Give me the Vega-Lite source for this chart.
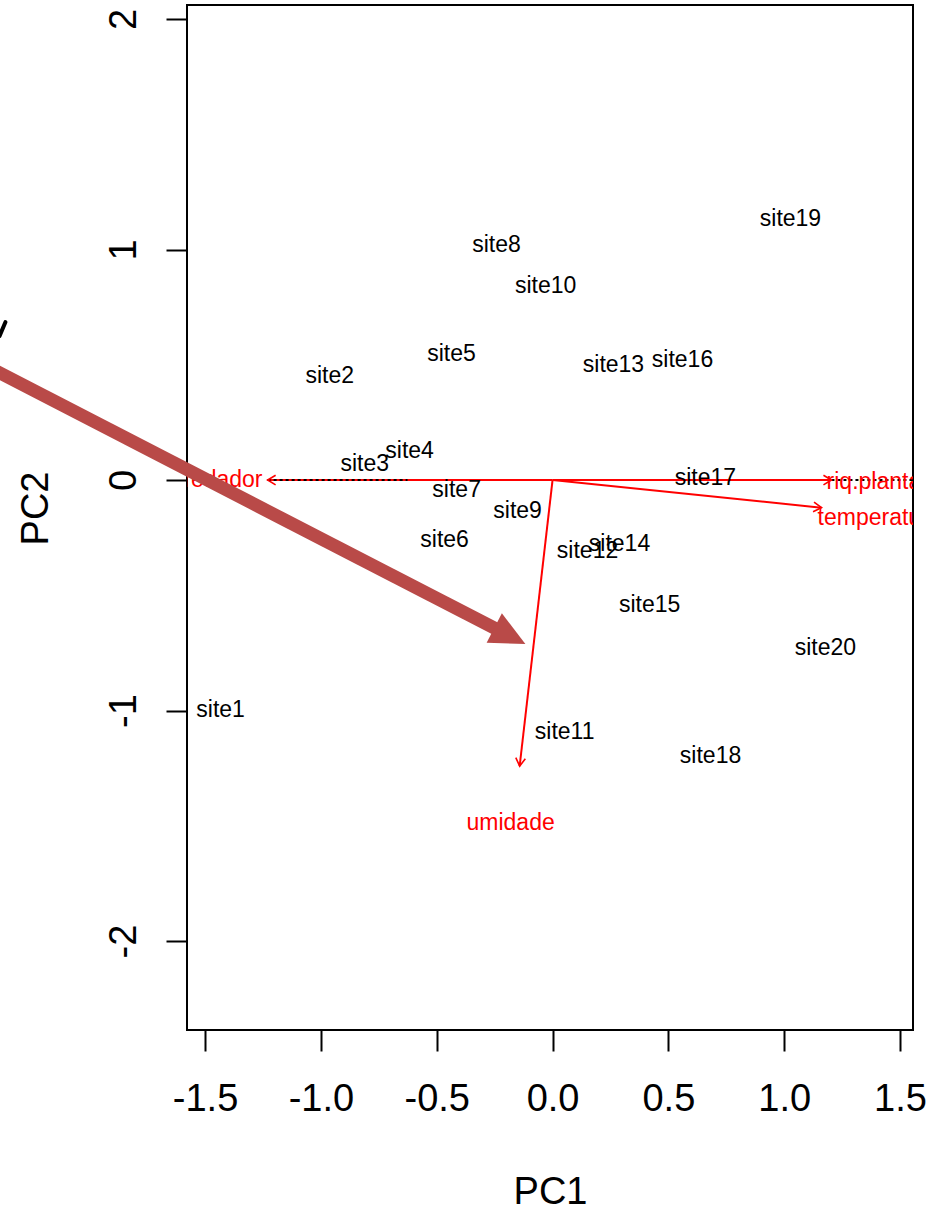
{
  "$schema": "https://vega.github.io/schema/vega-lite/v6.json",
  "width": 726,
  "height": 1025,
  "autosize": {"type": "none"},
  "padding": {"left": 187, "top": 5, "right": 15, "bottom": 179},
  "background": "white",
  "datasets": {
    "sites": [
      {"site": "site1", "PC1": -1.433, "PC2": -0.998},
      {"site": "site2", "PC1": -0.962, "PC2": 0.451},
      {"site": "site3", "PC1": -0.811, "PC2": 0.069},
      {"site": "site4", "PC1": -0.617, "PC2": 0.126},
      {"site": "site5", "PC1": -0.436, "PC2": 0.547},
      {"site": "site6", "PC1": -0.466, "PC2": -0.260},
      {"site": "site7", "PC1": -0.414, "PC2": -0.043},
      {"site": "site8", "PC1": -0.242, "PC2": 1.020},
      {"site": "site9", "PC1": -0.151, "PC2": -0.134},
      {"site": "site10", "PC1": -0.030, "PC2": 0.842},
      {"site": "site11", "PC1": 0.052, "PC2": -1.093},
      {"site": "site12", "PC1": 0.151, "PC2": -0.308},
      {"site": "site13", "PC1": 0.263, "PC2": 0.499},
      {"site": "site14", "PC1": 0.289, "PC2": -0.278},
      {"site": "site15", "PC1": 0.419, "PC2": -0.542},
      {"site": "site16", "PC1": 0.561, "PC2": 0.521},
      {"site": "site17", "PC1": 0.660, "PC2": 0.009},
      {"site": "site18", "PC1": 0.682, "PC2": -1.197},
      {"site": "site19", "PC1": 1.027, "PC2": 1.132},
      {"site": "site20", "PC1": 1.178, "PC2": -0.729}
    ],
    "vars": [
      {"var": "predador", "PC1": -1.230, "PC2": 0.0},
      {"var": "riq.plantas", "PC1": 1.204, "PC2": 0.0},
      {"var": "temperatura", "PC1": 1.161, "PC2": -0.120},
      {"var": "umidade", "PC1": -0.142, "PC2": -1.241}
    ],
    "varlabels": [
      {"var": "predador", "PC1": -1.252, "PC2": 0.0},
      {"var": "riq.plantas", "PC1": 1.183, "PC2": -0.010},
      {"var": "temperatura", "PC1": 1.144, "PC2": -0.165},
      {"var": "umidade", "PC1": -0.181, "PC2": -1.488}
    ],
    "hdots": [
      {"PC1": -1.230, "PC1end": -0.626, "PC2": 0.0},
      {"PC1": 1.204, "PC1end": 1.556, "PC2": 0.0}
    ],
    "note": [
      {"PC1": -2.45, "PC2": 0.498, "PC1end": -0.1845, "PC2end": -0.677}
    ],
    "stroke": [
      {"PC1": -2.387, "PC2": 0.625, "PC1end": -2.362, "PC2end": 0.685}
    ]
  },
  "config": {
    "view": {"stroke": "black", "strokeWidth": 2},
    "font": "Liberation Sans",
    "axis": {
      "domain": false,
      "grid": false,
      "tickColor": "black",
      "tickWidth": 2,
      "tickSize": 21,
      "labelColor": "black",
      "labelFont": "Liberation Sans",
      "labelFontSize": 38,
      "titleFont": "Liberation Sans",
      "titleFontSize": 38,
      "titleFontWeight": "normal",
      "titleColor": "black",
      "labelFlush": false,
      "labelOverlap": false,
      "labelBound": false
    },
    "axisX": {
      "labelPadding": 29,
      "titleY": 173,
      "titleBaseline": "alphabetic",
      "titleAlign": "center"
    },
    "axisY": {
      "labelPadding": 23,
      "labelAngle": -90,
      "labelAlign": "center",
      "labelBaseline": "bottom",
      "titleX": -140,
      "titleY": 503,
      "titleAngle": -90,
      "titleAlign": "center",
      "titleBaseline": "alphabetic"
    }
  },
  "layer": [
    {
      "mark": {"type": "rule", "color": "black", "strokeWidth": 2, "strokeDash": [3, 3]},
      "encoding": {
        "x": {"datum": 0, "type": "quantitative", "title": "PC1",
              "scale": {"domain": [-1.578, 1.556], "nice": false, "zero": false},
              "axis": {"values": [-1.5, -1, -0.5, 0, 0.5, 1, 1.5], "labelExpr": "replace(format(datum.value, '.1f'), '\u2212', '-')"}}
      }
    },
    {
      "data": {"name": "vars"},
      "mark": {"type": "rule", "color": "#ff0000", "strokeWidth": 2},
      "encoding": {
        "x": {"field": "PC1", "type": "quantitative", "title": "PC1",
              "scale": {"domain": [-1.578, 1.556], "nice": false, "zero": false}},
        "y": {"field": "PC2", "type": "quantitative", "title": "PC2",
              "scale": {"domain": [-2.386, 2.061], "nice": false, "zero": false},
              "axis": {"values": [-2, -1, 0, 1, 2], "labelExpr": "replace(format(datum.value, 'd'), '\u2212', '-')"}},
        "x2": {"datum": 0},
        "y2": {"datum": 0}
      }
    },
    {
      "data": {"name": "hdots"},
      "mark": {"type": "rule", "color": "black", "strokeWidth": 2, "strokeDash": [3, 3], "clip": true},
      "encoding": {
        "x": {"field": "PC1", "type": "quantitative", "title": "PC1",
              "scale": {"domain": [-1.578, 1.556], "nice": false, "zero": false}},
        "x2": {"field": "PC1end", "title": "PC1"},
        "y": {"field": "PC2", "type": "quantitative", "title": "PC2",
              "scale": {"domain": [-2.386, 2.061], "nice": false, "zero": false}}
      }
    },
    {
      "data": {"name": "vars"},
      "transform": [{"calculate": "atan2(-datum.PC2, datum.PC1) * 180 / PI", "as": "ang"}],
      "mark": {"type": "point", "shape": "M -1 -0.6 L 0 0 L -1 0.6", "filled": false, "color": "#ff0000", "strokeWidth": 1.6, "size": 256, "opacity": 1},
      "encoding": {
        "x": {"field": "PC1", "type": "quantitative", "title": "PC1",
              "scale": {"domain": [-1.578, 1.556], "nice": false, "zero": false}},
        "y": {"field": "PC2", "type": "quantitative", "title": "PC2",
              "scale": {"domain": [-2.386, 2.061], "nice": false, "zero": false}},
        "angle": {"field": "ang", "type": "quantitative", "scale": null}
      }
    },
    {
      "data": {"name": "sites"},
      "mark": {"type": "text", "fontSize": 23, "font": "Liberation Sans", "color": "black", "align": "center", "baseline": "middle"},
      "encoding": {
        "x": {"field": "PC1", "type": "quantitative", "title": "PC1",
              "scale": {"domain": [-1.578, 1.556], "nice": false, "zero": false}},
        "y": {"field": "PC2", "type": "quantitative", "title": "PC2",
              "scale": {"domain": [-2.386, 2.061], "nice": false, "zero": false}},
        "text": {"field": "site"}
      }
    },
    {
      "data": {"name": "varlabels"},
      "transform": [{"filter": {"field": "var", "oneOf": ["riq.plantas", "temperatura"]}}],
      "mark": {"type": "text", "fontSize": 23, "font": "Liberation Sans", "color": "#ff0000", "align": "left", "baseline": "middle", "clip": true},
      "encoding": {
        "x": {"field": "PC1", "type": "quantitative", "title": "PC1",
              "scale": {"domain": [-1.578, 1.556], "nice": false, "zero": false}},
        "y": {"field": "PC2", "type": "quantitative", "title": "PC2",
              "scale": {"domain": [-2.386, 2.061], "nice": false, "zero": false}},
        "text": {"field": "var"}
      }
    },
    {
      "data": {"name": "varlabels"},
      "transform": [{"filter": {"field": "var", "oneOf": ["predador"]}}],
      "mark": {"type": "text", "fontSize": 23, "font": "Liberation Sans", "color": "#ff0000", "align": "right", "baseline": "middle", "clip": true},
      "encoding": {
        "x": {"field": "PC1", "type": "quantitative", "title": "PC1",
              "scale": {"domain": [-1.578, 1.556], "nice": false, "zero": false}},
        "y": {"field": "PC2", "type": "quantitative", "title": "PC2",
              "scale": {"domain": [-2.386, 2.061], "nice": false, "zero": false}},
        "text": {"field": "var"}
      }
    },
    {
      "data": {"name": "varlabels"},
      "transform": [{"filter": {"field": "var", "oneOf": ["umidade"]}}],
      "mark": {"type": "text", "fontSize": 23, "font": "Liberation Sans", "color": "#ff0000", "align": "center", "baseline": "middle", "clip": true},
      "encoding": {
        "x": {"field": "PC1", "type": "quantitative", "title": "PC1",
              "scale": {"domain": [-1.578, 1.556], "nice": false, "zero": false}},
        "y": {"field": "PC2", "type": "quantitative", "title": "PC2",
              "scale": {"domain": [-2.386, 2.061], "nice": false, "zero": false}},
        "text": {"field": "var"}
      }
    },
    {
      "data": {"name": "note"},
      "mark": {"type": "rule", "color": "#b94a48", "strokeWidth": 13, "strokeCap": "butt"},
      "encoding": {
        "x": {"field": "PC1", "type": "quantitative", "title": "PC1",
              "scale": {"domain": [-1.578, 1.556], "nice": false, "zero": false}},
        "y": {"field": "PC2", "type": "quantitative", "title": "PC2",
              "scale": {"domain": [-2.386, 2.061], "nice": false, "zero": false}},
        "x2": {"field": "PC1end", "title": "PC1"},
        "y2": {"field": "PC2end", "title": "PC2"}
      }
    },
    {
      "data": {"name": "note"},
      "transform": [{"calculate": "atan2((datum.PC2 - datum.PC2end) * 230.5, (datum.PC1end - datum.PC1) * 231.7) * 180 / PI", "as": "ang"}],
      "mark": {"type": "point", "shape": "M 1 0 L -1 -0.95 L -1 0.95 Z", "filled": true, "color": "#b94a48", "size": 1225, "opacity": 1},
      "encoding": {
        "x": {"field": "PC1end", "type": "quantitative", "title": "PC1",
              "scale": {"domain": [-1.578, 1.556], "nice": false, "zero": false}},
        "y": {"field": "PC2end", "type": "quantitative", "title": "PC2",
              "scale": {"domain": [-2.386, 2.061], "nice": false, "zero": false}},
        "angle": {"field": "ang", "type": "quantitative", "scale": null}
      }
    },
    {
      "data": {"name": "stroke"},
      "mark": {"type": "rule", "color": "black", "strokeWidth": 4, "strokeCap": "round"},
      "encoding": {
        "x": {"field": "PC1", "type": "quantitative", "title": "PC1",
              "scale": {"domain": [-1.578, 1.556], "nice": false, "zero": false}},
        "y": {"field": "PC2", "type": "quantitative", "title": "PC2",
              "scale": {"domain": [-2.386, 2.061], "nice": false, "zero": false}},
        "x2": {"field": "PC1end", "title": "PC1"},
        "y2": {"field": "PC2end", "title": "PC2"}
      }
    }
  ]
}
